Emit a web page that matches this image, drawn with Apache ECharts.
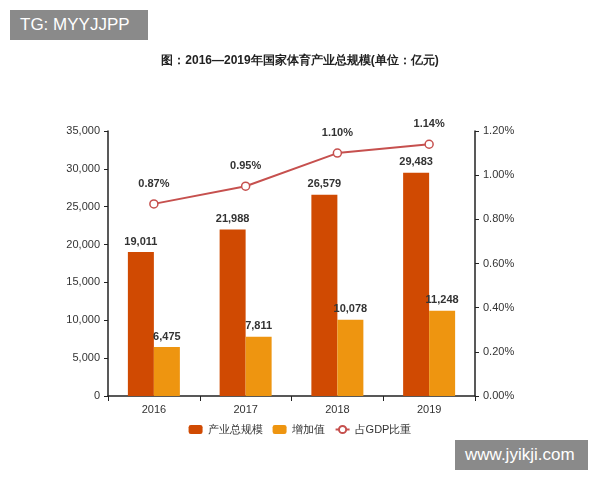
<!DOCTYPE html>
<html><head><meta charset="utf-8">
<script src="https://cdn.jsdelivr.net/npm/echarts@6/dist/echarts.min.js"></script>
<style>body{margin:0;background:#fff}#c{width:600px;height:480px}
.wm{position:absolute;background:#8a8a8a;color:#fff;font-family:Arial,sans-serif;font-size:17px;padding:5px 10px}</style>
</head><body>
<div id="c"></div>
<div class="wm" style="left:10px;top:10px;width:118px">TG: MYYJJPP</div>
<div class="wm" style="left:455px;top:440px;width:113px">www.jyikji.com</div>
<script>
var years = ['2016', '2017', '2018', '2019'];
var total = [19011, 21988, 26579, 29483];
var added = [6475, 7811, 10078, 11248];
var gdpShare = [0.87, 0.95, 1.10, 1.14];

var fmt = function (v) { return v.toLocaleString('en-US'); };
var lbl = {show: true, position: 'top', color: '#333', fontWeight: 'bold', fontSize: 11,
    formatter: function (p) { return fmt(p.value); }};

echarts.init(document.getElementById('c')).setOption({
    title: {text: '图：2016—2019年国家体育产业总规模(单位：亿元)', left: 'center', top: 50,
        textStyle: {fontSize: 12, fontWeight: 'bold', color: '#222'}},
    grid: {left: 108, right: 125, top: 131, bottom: 84},
    legend: {bottom: 40, itemWidth: 14, itemHeight: 9, itemGap: 10,
        textStyle: {fontSize: 11, color: '#333'},
        data: ['产业总规模', '增加值', '占GDP比重']},
    xAxis: {type: 'category', data: years,
        axisLine: {lineStyle: {color: '#222', width: 1.5}},
        axisTick: {show: true, length: 5},
        axisLabel: {color: '#333', fontSize: 11}},
    yAxis: [{type: 'value', min: 0, max: 35000, interval: 5000,
        axisLine: {show: true, lineStyle: {color: '#222', width: 1.5}},
        axisTick: {show: true, length: 4},
        splitLine: {show: false},
        axisLabel: {color: '#333', fontSize: 11, formatter: fmt}},
    {type: 'value', min: 0, max: 1.2, interval: 0.2,
        axisLine: {show: true, lineStyle: {color: '#222', width: 1.5}},
        axisTick: {show: true, length: 4},
        splitLine: {show: false},
        axisLabel: {color: '#333', fontSize: 11, formatter: function (v) { return v.toFixed(2) + '%'; }}}],
    series: [
        {name: '产业总规模', type: 'bar', data: total, barWidth: 26, barGap: '0%',
            itemStyle: {color: '#D04A02'}, label: lbl},
        {name: '增加值', type: 'bar', data: added, barWidth: 26,
            itemStyle: {color: '#EE9510'}, label: lbl},
        {name: '占GDP比重', type: 'line', yAxisIndex: 1, data: gdpShare,
            symbol: 'circle', symbolSize: 8,
            lineStyle: {color: '#C6504E', width: 2},
            itemStyle: {color: '#fff', borderColor: '#C6504E', borderWidth: 1.5},
            label: {show: true, position: 'top', distance: 10, color: '#333', fontWeight: 'bold', fontSize: 11,
                formatter: function (p) { return p.value.toFixed(2) + '%'; }}}
    ]
});
</script></body></html>
